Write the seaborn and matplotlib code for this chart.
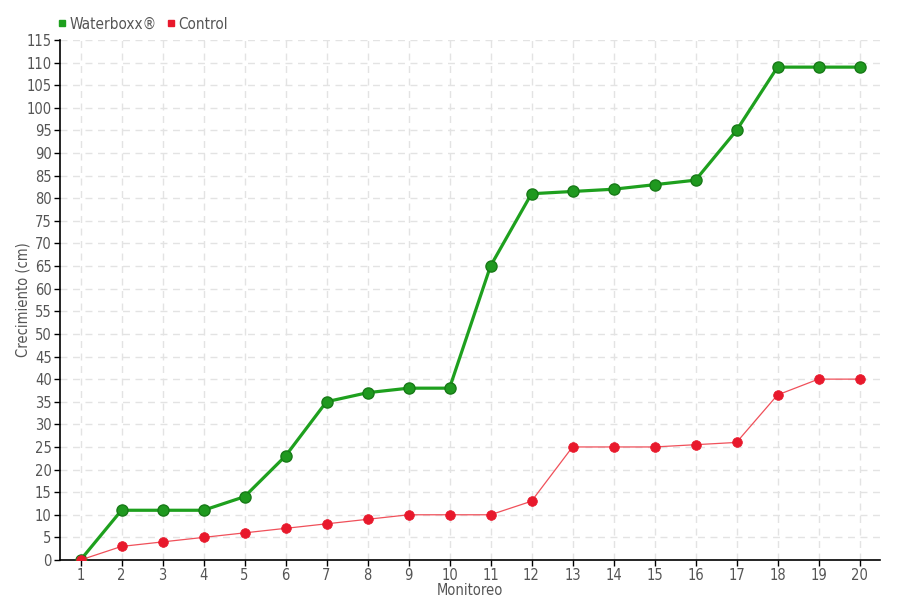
import matplotlib
matplotlib.use("Agg")
import matplotlib.pyplot as plt
import seaborn as sns
import pandas as pd
from matplotlib.lines import Line2D

monitoreo = list(range(1, 21))
waterboxx = [0, 11, 11, 11, 14, 23, 35, 37, 38, 38, 65, 81, 81.5, 82, 83, 84, 95, 109, 109, 109]
control = [0, 3, 4, 5, 6, 7, 8, 9, 10, 10, 10, 13, 25, 25, 25, 25.5, 26, 36.5, 40, 40]
yticks = list(range(0, 116, 5))

sns.set_theme(style="white")
plt.rcParams['font.family'] = ['DejaVu Sans']
plt.rcParams['font.stretch'] = 'condensed'
plt.rcParams['font.weight'] = 'light'

df = pd.DataFrame({"Monitoreo": monitoreo, "Waterboxx": waterboxx, "Control": control})

fig = plt.figure(figsize=(9, 6), dpi=100)
ax = fig.add_axes([60/900, 40/600, 820/900, 520/600])

green = "#1ea01e"
red = "#e8192c"
sns.lineplot(data=df, x="Monitoreo", y="Waterboxx", ax=ax, color=green, linewidth=2.3,
             marker="o", markersize=8, markerfacecolor="#1f991f", markeredgecolor="#177a17",
             markeredgewidth=1, zorder=3)
sns.lineplot(data=df, x="Monitoreo", y="Control", ax=ax, color="#f0505a", linewidth=0.9,
             marker="o", markersize=7, markerfacecolor=red, markeredgecolor=red,
             markeredgewidth=0.5, zorder=4)

ax.set_xlim(0.5, 20.5)
ax.set_ylim(0, 115)
ax.set_xticks(monitoreo)
ax.set_yticks(yticks)
ax.grid(True, color="#e3e3e3", linestyle=(0, (5, 4)), linewidth=1)
ax.set_axisbelow(True)
for s in ["top", "right"]:
    ax.spines[s].set_visible(False)
for s in ["left", "bottom"]:
    ax.spines[s].set_color("black")
    ax.spines[s].set_linewidth(1.2)
ax.tick_params(axis="both", which="both", direction="out", length=4, width=1, colors="black",
               labelcolor="#555555", labelsize=10.5, pad=2, left=True, bottom=True)
ax.set_xlabel("Monitoreo", color="#555555", fontsize=10.5, labelpad=0)
ax.set_ylabel("Crecimiento (cm)", color="#555555", fontsize=10.5, labelpad=-3)

handles = [Line2D([], [], linestyle="none", marker="s", markersize=4.5, color=green),
           Line2D([], [], linestyle="none", marker="s", markersize=4.5, color=red)]
fig.legend(handles, ["Waterboxx®", "Control"], loc="upper left", bbox_to_anchor=(42/900, 1 - 3/600),
           ncol=2, frameon=False, handletextpad=0.1, columnspacing=0.5, handlelength=0.8,
           labelcolor="#555555", fontsize=11)

fig.savefig("out.png", dpi=100)
